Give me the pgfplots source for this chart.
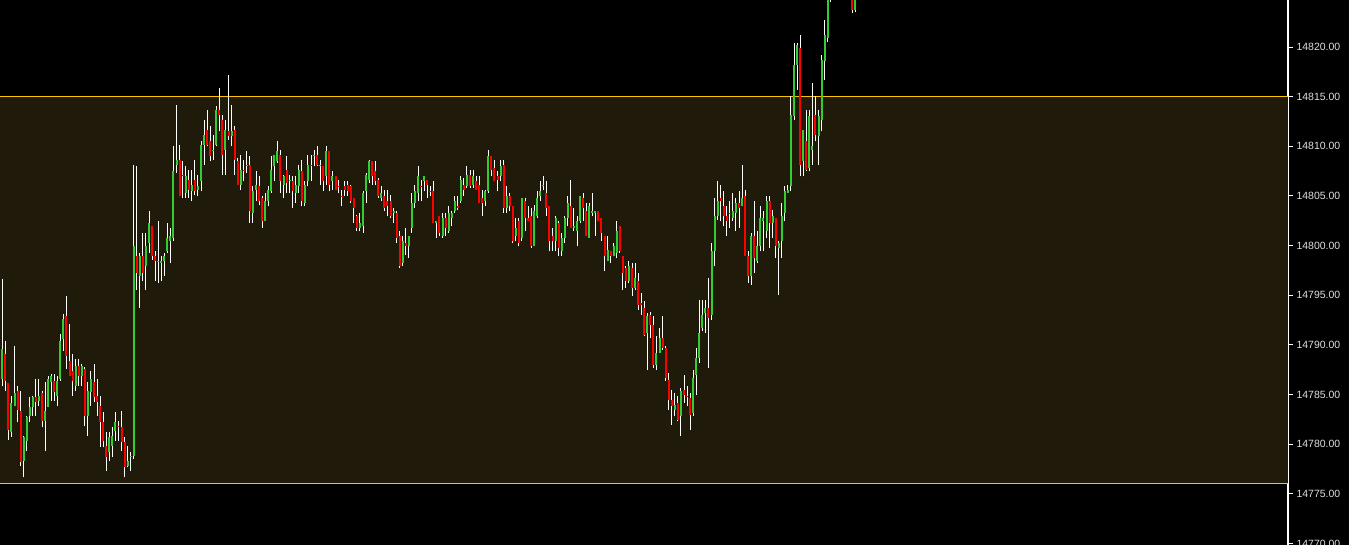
\documentclass[border=0pt]{standalone}
\usepackage{fontspec}
\setmainfont{Liberation Sans}
\usepackage{pgfplots}
\usepackage{pgfplotstable}
\pgfplotsset{compat=1.18}
\definecolor{band}{RGB}{32,26,10}
\definecolor{rangeline}{RGB}{255,196,0}
\definecolor{upc}{RGB}{50,205,50}
\definecolor{dnc}{RGB}{255,0,0}
\definecolor{labelgray}{RGB}{222,222,222}
\pgfplotstableread{
i o h l c
0 14781.13 14787.00 14780.50 14786.17
1 14786.60 14796.67 14785.83 14789.59
2 14789.08 14790.43 14785.39 14786.40
3 14786.16 14786.20 14780.46 14781.40
4 14781.20 14784.89 14780.73 14784.15
5 14783.82 14789.92 14783.82 14785.16
6 14785.39 14785.90 14782.20 14783.48
7 14783.38 14785.39 14777.84 14778.17
8 14778.34 14780.86 14776.67 14780.69
9 14780.36 14782.88 14779.35 14782.71
10 14782.88 14784.72 14782.20 14783.71
11 14783.71 14784.89 14782.88 14784.72
12 14784.72 14786.57 14782.88 14784.22
13 14784.39 14786.57 14783.88 14784.89
14 14785.16 14785.39 14781.70 14782.37
15 14782.37 14786.23 14779.35 14783.38
16 14783.71 14786.90 14783.71 14786.57
17 14786.23 14787.07 14784.39 14786.90
18 14786.40 14787.07 14784.39 14785.22
19 14784.89 14786.90 14783.88 14786.40
20 14786.57 14791.10 14786.40 14790.43
21 14790.60 14793.11 14789.42 14792.61
22 14792.95 14794.96 14787.57 14788.92
23 14788.41 14792.11 14786.90 14786.90
24 14787.41 14789.08 14784.89 14786.40
25 14785.90 14788.58 14785.39 14787.91
26 14787.91 14788.58 14785.90 14786.90
27 14786.90 14788.08 14785.90 14787.91
28 14787.57 14787.74 14781.87 14782.88
29 14782.88 14786.23 14780.86 14785.39
30 14785.22 14787.41 14783.88 14786.57
31 14786.23 14788.08 14784.22 14784.72
32 14784.89 14786.57 14782.88 14784.22
33 14783.88 14784.89 14779.69 14782.20
34 14782.20 14783.21 14779.69 14780.36
35 14779.85 14781.20 14777.33 14778.68
36 14779.18 14781.20 14778.34 14780.69
37 14779.85 14781.70 14778.68 14780.86
38 14781.36 14783.21 14780.36 14782.20
39 14781.87 14782.37 14780.36 14781.70
40 14781.70 14783.38 14779.35 14780.19
41 14780.19 14780.69 14776.67 14777.67
42 14777.84 14779.85 14777.67 14778.34
43 14778.68 14779.18 14777.33 14778.85
44 14778.85 14808.15 14778.50 14799.93
45 14798.92 14807.98 14795.56 14797.24
46 14796.91 14799.26 14793.72 14798.92
47 14798.92 14801.27 14796.40 14797.24
48 14797.91 14801.27 14795.56 14799.93
49 14800.26 14803.45 14799.26 14802.28
50 14801.94 14801.94 14798.59 14798.92
51 14798.92 14799.42 14796.40 14798.42
52 14798.45 14802.45 14796.24 14798.48
53 14798.25 14798.92 14796.40 14798.48
54 14798.42 14799.26 14796.91 14798.92
55 14799.42 14802.28 14799.26 14800.77
56 14800.43 14801.77 14798.25 14800.94
57 14800.77 14809.99 14800.43 14807.48
58 14808.15 14814.19 14807.31 14808.66
59 14808.66 14810.17 14804.96 14804.96
60 14807.15 14808.49 14804.80 14806.98
61 14805.30 14807.98 14804.80 14806.98
62 14806.64 14807.65 14804.80 14805.63
63 14805.47 14807.65 14804.46 14806.14
64 14806.64 14808.66 14805.13 14805.47
65 14805.63 14807.15 14804.96 14805.97
66 14806.47 14810.50 14805.47 14810.17
67 14810.17 14812.68 14808.15 14811.17
68 14811.68 14813.69 14810.00 14810.17
69 14810.50 14812.01 14808.49 14808.99
70 14809.50 14811.17 14808.66 14809.66
71 14810.17 14814.03 14810.00 14813.69
72 14813.69 14815.87 14811.51 14813.19
73 14812.68 14813.19 14807.15 14809.16
74 14809.66 14812.68 14807.15 14811.68
75 14811.51 14817.21 14810.67 14811.01
76 14811.01 14814.19 14810.00 14811.51
77 14811.68 14812.01 14807.15 14808.66
78 14808.49 14808.82 14806.14 14806.14
79 14806.14 14809.16 14805.63 14807.65
80 14807.65 14808.66 14806.47 14807.60
81 14807.98 14809.50 14807.31 14808.15
82 14808.15 14808.99 14802.28 14803.45
83 14803.29 14805.97 14802.28 14805.47
84 14805.64 14807.48 14804.46 14806.14
85 14805.97 14806.98 14804.12 14804.46
86 14804.80 14804.96 14801.77 14802.45
87 14802.45 14805.30 14802.45 14804.46
88 14804.46 14805.97 14803.96 14805.64
89 14805.47 14808.99 14805.30 14807.65
90 14807.99 14809.16 14806.47 14809.16
91 14808.49 14810.50 14808.32 14809.50
92 14809.16 14809.66 14805.30 14806.47
93 14806.14 14807.15 14804.80 14806.98
94 14807.65 14808.99 14805.30 14806.31
95 14806.47 14807.15 14805.30 14806.64
96 14806.47 14806.98 14803.79 14805.47
97 14805.30 14806.98 14804.29 14806.14
98 14805.97 14808.15 14805.30 14807.65
99 14807.48 14808.66 14803.96 14804.46
100 14804.29 14806.47 14803.96 14806.14
101 14806.47 14809.16 14805.97 14808.15
102 14808.15 14809.16 14806.47 14808.10
103 14808.99 14809.66 14807.99 14809.16
104 14809.16 14810.00 14807.99 14808.15
105 14807.99 14808.66 14806.14 14808.15
106 14807.99 14807.99 14805.47 14806.47
107 14806.98 14810.00 14806.14 14809.50
108 14809.50 14809.50 14805.47 14806.14
109 14806.47 14807.48 14805.64 14806.98
110 14806.98 14806.98 14805.64 14805.64
111 14805.97 14806.64 14805.30 14805.95
112 14805.00 14805.64 14803.96 14804.96
113 14805.97 14806.47 14804.96 14805.64
114 14806.14 14806.47 14804.96 14805.47
115 14805.97 14806.14 14804.29 14804.46
116 14804.80 14804.80 14802.28 14803.79
117 14802.95 14803.12 14801.44 14801.77
118 14801.77 14803.29 14801.44 14802.28
119 14801.94 14805.47 14801.27 14805.30
120 14805.47 14807.31 14804.29 14807.15
121 14806.64 14808.66 14806.31 14808.49
122 14808.49 14808.49 14806.14 14806.98
123 14807.48 14808.49 14806.14 14806.47
124 14806.64 14806.81 14804.80 14804.96
125 14804.80 14805.97 14804.46 14805.30
126 14804.96 14805.64 14803.45 14803.79
127 14804.46 14805.64 14802.95 14803.96
128 14804.46 14805.13 14802.78 14802.95
129 14803.29 14803.79 14802.28 14803.45
130 14803.29 14803.45 14800.26 14800.77
131 14800.94 14801.44 14797.75 14797.91
132 14798.25 14800.94 14797.91 14800.43
133 14800.26 14801.77 14799.09 14799.93
134 14799.93 14800.94 14798.75 14800.94
135 14801.77 14805.30 14801.27 14804.29
136 14804.29 14806.14 14803.79 14805.47
137 14805.30 14807.98 14804.46 14806.98
138 14805.97 14806.64 14804.46 14805.95
139 14806.47 14806.98 14805.47 14806.98
140 14806.64 14806.64 14804.80 14806.14
141 14805.49 14805.97 14804.96 14805.47
142 14805.47 14806.47 14802.28 14802.28
143 14802.28 14802.45 14800.77 14802.45
144 14802.95 14802.95 14800.94 14801.27
145 14800.94 14803.29 14800.77 14802.78
146 14802.78 14803.29 14800.94 14801.77
147 14801.44 14803.96 14801.27 14803.29
148 14802.78 14803.45 14801.94 14803.29
149 14803.45 14804.96 14803.29 14804.46
150 14803.96 14804.96 14803.62 14803.79
151 14804.46 14806.98 14804.29 14806.64
152 14806.14 14806.81 14804.96 14805.64
153 14805.97 14807.98 14805.80 14807.15
154 14807.15 14807.65 14805.80 14805.97
155 14806.14 14807.65 14805.80 14806.98
156 14806.47 14806.98 14805.64 14805.64
157 14806.14 14806.98 14804.29 14804.29
158 14804.80 14805.64 14802.95 14804.29
159 14804.46 14805.64 14803.96 14805.47
160 14805.47 14809.66 14805.30 14808.99
161 14808.99 14808.99 14806.98 14807.65
162 14807.82 14808.66 14806.47 14806.47
163 14806.98 14807.48 14805.47 14806.64
164 14806.98 14808.66 14806.47 14807.98
165 14808.15 14808.66 14803.29 14803.79
166 14803.79 14805.97 14803.29 14804.96
167 14804.96 14805.30 14803.45 14803.96
168 14803.96 14803.96 14800.26 14800.43
169 14800.94 14802.78 14800.43 14801.77
170 14802.45 14802.78 14799.93 14800.26
171 14800.77 14804.80 14800.43 14804.80
172 14804.46 14804.80 14801.44 14802.78
173 14802.78 14803.96 14802.45 14802.45
174 14802.95 14803.79 14799.76 14799.93
175 14799.93 14804.12 14799.93 14803.45
176 14802.95 14805.47 14802.78 14804.80
177 14804.96 14806.47 14804.46 14805.47
178 14805.97 14806.98 14805.64 14806.14
179 14805.30 14806.47 14802.95 14803.79
180 14803.96 14803.96 14799.43 14800.43
181 14800.94 14801.77 14799.43 14800.43
182 14800.43 14802.95 14799.43 14802.78
183 14802.28 14802.45 14798.92 14799.76
184 14799.43 14801.27 14798.92 14800.77
185 14800.77 14802.95 14800.26 14802.78
186 14802.78 14804.96 14801.94 14804.29
187 14803.96 14806.64 14801.77 14801.77
188 14801.77 14803.79 14801.44 14801.94
189 14801.44 14802.95 14799.93 14802.45
190 14802.45 14804.96 14802.28 14804.96
191 14804.80 14805.30 14802.45 14803.79
192 14803.45 14804.29 14800.94 14800.94
193 14800.77 14804.29 14800.77 14803.96
194 14803.29 14805.30 14802.95 14803.45
195 14803.29 14803.45 14800.94 14803.45
196 14803.45 14803.45 14802.45 14802.45
197 14802.78 14802.78 14800.43 14801.27
198 14800.94 14800.94 14797.41 14798.92
199 14798.42 14800.94 14798.42 14799.59
200 14799.43 14799.43 14798.25 14798.92
201 14798.92 14800.26 14798.92 14799.93
202 14799.26 14802.45 14798.75 14801.44
203 14801.94 14801.94 14799.26 14799.43
204 14798.92 14798.92 14795.56 14797.24
205 14797.75 14797.91 14795.73 14796.40
206 14796.40 14798.42 14796.24 14797.91
207 14797.75 14798.25 14794.89 14795.73
208 14795.73 14798.25 14795.56 14796.74
209 14796.40 14797.24 14793.55 14794.05
210 14794.22 14795.23 14793.05 14794.05
211 14793.72 14794.39 14790.86 14791.03
212 14791.20 14793.21 14787.51 14792.88
213 14793.05 14793.30 14790.70 14792.04
214 14792.04 14792.88 14787.68 14788.01
215 14788.01 14790.86 14787.51 14789.19
216 14789.19 14791.70 14789.19 14790.70
217 14790.70 14792.88 14789.52 14789.69
218 14789.69 14789.86 14786.33 14786.67
219 14786.50 14787.17 14783.48 14784.49
220 14784.49 14785.49 14781.97 14783.82
221 14783.48 14785.16 14782.81 14783.98
222 14784.15 14784.82 14782.30 14782.47
223 14782.81 14785.66 14780.79 14785.33
224 14785.49 14787.00 14784.15 14784.99
225 14784.85 14785.83 14783.82 14784.82
226 14784.66 14785.16 14781.47 14782.98
227 14783.14 14787.51 14782.81 14786.67
228 14787.00 14789.69 14784.99 14788.68
229 14788.68 14794.56 14788.18 14791.20
230 14791.70 14794.56 14791.37 14793.05
231 14793.21 14794.56 14791.20 14793.72
232 14793.72 14796.74 14787.68 14792.71
233 14793.05 14800.26 14792.54 14799.42
234 14799.42 14804.80 14797.91 14802.95
235 14802.95 14806.47 14802.61 14804.46
236 14804.80 14806.14 14802.45 14804.46
237 14803.96 14805.47 14801.94 14802.95
238 14802.95 14803.96 14800.94 14802.45
239 14803.30 14804.46 14801.77 14803.28
240 14802.78 14805.30 14802.45 14803.45
241 14803.29 14804.80 14801.44 14804.29
242 14804.29 14805.47 14801.77 14803.79
243 14803.96 14808.15 14803.96 14804.80
244 14804.96 14805.64 14798.92 14798.92
245 14798.92 14799.42 14796.24 14796.91
246 14796.91 14801.27 14796.07 14800.94
247 14800.94 14804.46 14797.24 14798.75
248 14798.42 14801.44 14798.25 14799.93
249 14799.93 14803.96 14799.42 14802.78
250 14802.45 14803.45 14799.42 14802.78
251 14801.44 14804.96 14800.77 14804.46
252 14804.46 14804.96 14799.76 14802.28
253 14802.28 14803.62 14800.77 14802.95
254 14802.78 14802.78 14798.75 14799.93
255 14799.76 14800.43 14795.06 14800.26
256 14800.43 14804.29 14798.75 14802.95
257 14803.29 14805.97 14802.45 14805.47
258 14805.30 14806.14 14805.30 14805.64
259 14805.97 14815.03 14805.47 14813.19
260 14813.02 14820.40 14812.68 14818.22
261 14818.22 14820.40 14815.70 14820.24
262 14819.90 14821.24 14806.98 14808.15
263 14808.49 14811.68 14806.98 14811.68
264 14810.50 14813.69 14807.48 14807.65
265 14807.82 14813.69 14807.48 14813.02
266 14809.66 14816.38 14808.15 14809.99
267 14813.19 14815.03 14810.50 14811.17
268 14811.01 14813.69 14808.15 14813.02
269 14812.68 14819.23 14811.51 14818.73
270 14818.56 14822.75 14816.71 14821.24
271 14820.91 14827.00 14820.50 14826.50
272 14826.50 14829.00 14824.50 14828.00
279 14827.00 14828.00 14823.43 14823.76
280 14823.76 14826.00 14823.50 14825.50
}\candles
\begin{document}
\begin{tikzpicture}
\fill[black] (0,0) rectangle (1349pt,545pt);
\useasboundingbox (0,0) rectangle (1349pt,545pt);
\begin{axis}[
  at={(0,0)}, anchor=south west,
  width=1288pt, height=545pt, scale only axis,
  xmin=0.2486, xmax=421.58,
  ymin=14769.85, ymax=14824.74,
  axis x line=none,
  axis y line*=right,
  axis line style={draw=white, line width=1.5pt},
  ytick={14770,14775,14780,14785,14790,14795,14800,14805,14810,14815,14820,14825},
  scaled y ticks=false,
  tick align=outside,
  major tick length=5pt,
  tick style={draw=white, line width=1pt},
  yticklabel style={font=\fontsize{10.5}{12}\selectfont, text=labelgray,
    /pgf/number format/fixed, /pgf/number format/fixed zerofill,
    /pgf/number format/precision=2, /pgf/number format/1000 sep={},
    /pgf/number format/assume math mode=true},
]
\addplot[draw=none, fill=band, forget plot] coordinates {(0.2486,14776) (421.58,14776) (421.58,14815) (0.2486,14815)} -- cycle;
\addplot[draw=rangeline, line width=1.1pt, forget plot] coordinates {(0.2486,14815) (421.58,14815)};
\addplot[draw=rangeline, line width=1.1pt, forget plot] coordinates {(0.2486,14776.05) (421.58,14776.05)};
% wicks
\addplot[draw=none, mark=none, forget plot,
  error bars/.cd, y dir=plus, y explicit, error mark=none,
  error bar style={draw=white, line width=1pt}]
  table[x=i, y=l, y error plus expr={\thisrow{h}-\thisrow{l}}] {\candles};
% up bodies
\addplot[draw=none, mark=none, forget plot,
  restrict expr to domain={\thisrow{c}-\thisrow{o}}{0:1000},
  error bars/.cd, y dir=plus, y explicit, error mark=none,
  error bar style={draw=upc, line width=2pt}]
  table[x=i, y=o, y error plus expr={\thisrow{c}-\thisrow{o}}] {\candles};
% down bodies
\addplot[draw=none, mark=none, forget plot,
  restrict expr to domain={\thisrow{o}-\thisrow{c}}{0.0001:1000},
  error bars/.cd, y dir=plus, y explicit, error mark=none,
  error bar style={draw=dnc, line width=2pt}]
  table[x=i, y=c, y error plus expr={\thisrow{o}-\thisrow{c}}] {\candles};
\end{axis}
\end{tikzpicture}
\end{document}
